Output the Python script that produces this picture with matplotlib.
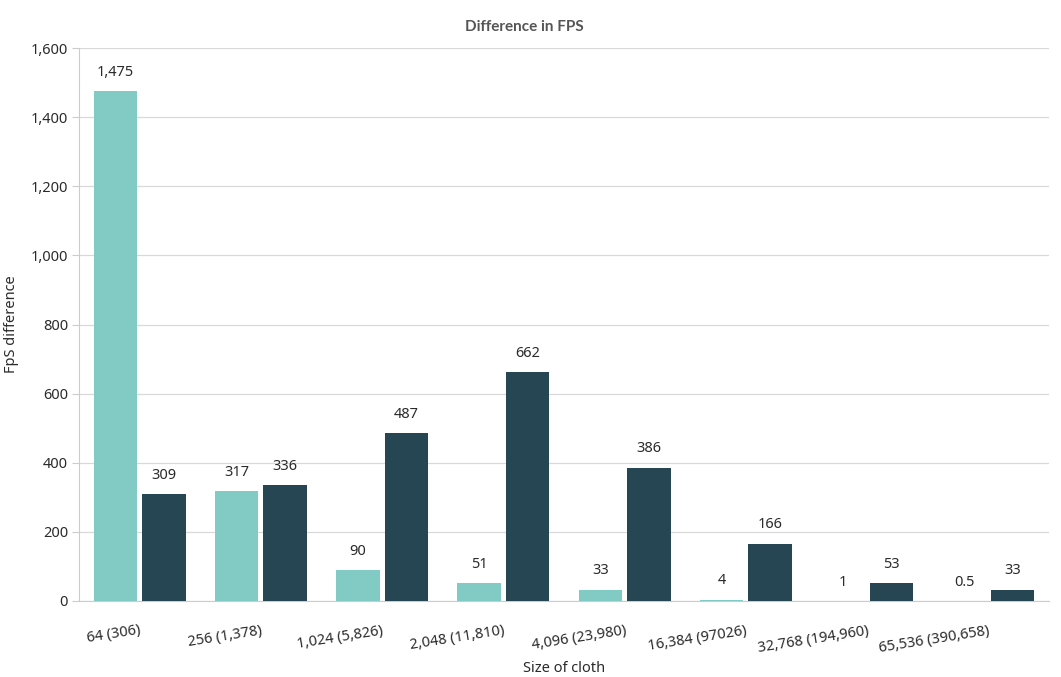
import matplotlib
matplotlib.use("Agg")
import matplotlib.pyplot as plt
import numpy as np

plt.rcParams['font.family'] = ['Noto Sans', 'DejaVu Sans']

sizes = ["64 (306)", "256 (1,378)", "1,024 (5,826)", "2,048 (11,810)",
         "4,096 (23,980)", "16,384 (97026)", "32,768 (194,960)", "65,536 (390,658)"]
teal_vals = [1475, 317, 90, 51, 33, 4, 1, 0.5]
dark_vals = [309, 336, 487, 662, 386, 166, 53, 33]
teal_labels = ["1,475", "317", "90", "51", "33", "4", "1", "0.5"]
dark_labels = ["309", "336", "487", "662", "386", "166", "53", "33"]

teal = "#82cbc4"
dark = "#264653"
text_col = "#2b2b2b"

fig = plt.figure(figsize=(10.61, 6.77), dpi=100)
ax = fig.add_axes([0.0745, 0.1123, 0.9142, 0.8167])

x = np.arange(len(sizes))
w = 0.36
off = 0.2
ax.bar(x - off, teal_vals, w, color=teal, zorder=3)
ax.bar(x + off, dark_vals, w, color=dark, zorder=3)

for i in range(len(x)):
    ax.annotate(teal_labels[i], (x[i] - off, teal_vals[i]), xytext=(0, 8),
                textcoords="offset points", ha="center", va="bottom",
                fontsize=10.5, color=text_col)
    ax.annotate(dark_labels[i], (x[i] + off, dark_vals[i]), xytext=(0, 8),
                textcoords="offset points", ha="center", va="bottom",
                fontsize=10.5, color=text_col)

ax.set_xlim(-0.5, len(x) - 0.5)
ax.set_ylim(0, 1600)
ax.set_yticks(range(0, 1601, 200))
ax.set_yticklabels([f"{v:,}" for v in range(0, 1601, 200)], fontsize=10.5, color=text_col)
ax.set_xticks(x)
ax.set_xticklabels(sizes, rotation=9, ha="right", rotation_mode="anchor",
                   fontsize=10.5, color=text_col)
ax.tick_params(axis="x", length=0, pad=16)
ax.tick_params(axis="y", length=5, color="#cccccc", pad=3)

ax.grid(axis="y", color="#d9d9d9", linewidth=0.9, zorder=0)
for s in ["top", "right"]:
    ax.spines[s].set_visible(False)
ax.spines["left"].set_color("#cccccc")
ax.spines["bottom"].set_color("#cccccc")

# title sits over the figure centre, not the axes centre
ax.set_title("Difference in FPS", fontsize=11, fontweight="bold", color="#555555", pad=12,
             x=0.459, family=["Lato", "DejaVu Sans"])
ax.set_ylabel("FpS difference", fontsize=10.5, color=text_col, labelpad=8)
ax.set_xlabel("Size of cloth", fontsize=10.5, color=text_col, labelpad=4)

fig.savefig("out.png", dpi=100)
